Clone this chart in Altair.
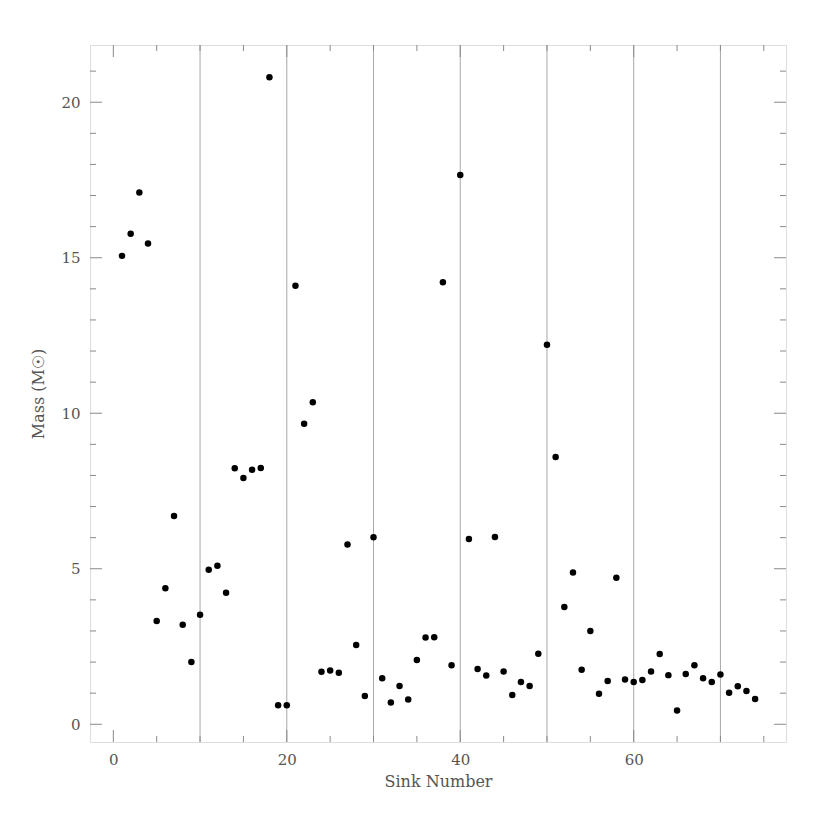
import altair as alt
import pandas as pd

sink = list(range(1, 75))
mass = [15.06, 15.77, 17.10, 15.46, 3.32, 4.37, 6.70, 3.20, 2.00, 3.52,
        4.97, 5.10, 4.23, 8.23, 7.92, 8.18, 8.24, 20.80, 0.61, 0.61,
        14.10, 9.66, 10.35, 1.69, 1.73, 1.66, 5.78, 2.55, 0.91, 6.01,
        1.48, 0.70, 1.23, 0.80, 2.07, 2.79, 2.80, 14.21, 1.90, 17.66,
        5.96, 1.78, 1.57, 6.02, 1.70, 0.94, 1.36, 1.23, 2.27, 12.20,
        8.59, 3.77, 4.88, 1.75, 3.00, 0.98, 1.39, 4.71, 1.44, 1.36,
        1.42, 1.70, 2.26, 1.58, 0.44, 1.62, 1.90, 1.48, 1.36, 1.60,
        1.01, 1.22, 1.07, 0.81]

x_labels = [0, 20, 40, 60]
y_labels = [0, 5, 10, 15, 20]
grid_x = [10, 20, 30, 40, 50, 60, 70]
x_major = [0, 20, 40, 60]
x_minor = [5, 10, 15, 25, 30, 35, 45, 50, 55, 65, 70, 75]
y_major = [0, 5, 10, 15, 20]
y_minor = [1, 2, 3, 4, 6, 7, 8, 9, 11, 12, 13, 14, 16, 17, 18, 19, 21]

W, H = 696, 697
XDOM = [-2.69, 77.56]
YDOM = [-0.57, 21.84]
FONT = "DejaVu Serif"
TXT = "#555555"
FRAME = "#8a8a8a"

xs = alt.Scale(domain=XDOM, nice=False, zero=False)
ys = alt.Scale(domain=YDOM, nice=False, zero=False)

df = pd.DataFrame({"sink": sink, "mass": mass})

points = alt.Chart(df).mark_circle(size=42, color="black", opacity=1).encode(
    x=alt.X("sink:Q", scale=xs,
            axis=alt.Axis(values=x_labels, title="Sink Number", ticks=False, domain=False,
                          grid=False, labelFont=FONT, labelFontSize=15, labelColor=TXT,
                          labelPadding=10, titleFont=FONT, titleFontSize=16,
                          titleFontWeight="normal", titleColor=TXT, titlePadding=6)),
    y=alt.Y("mass:Q", scale=ys,
            axis=alt.Axis(values=y_labels, title="Mass (M☉)", ticks=False, domain=False,
                          grid=False, labelFont=FONT, labelFontSize=15, labelColor=TXT,
                          labelPadding=10, titleFont=FONT, titleFontSize=16,
                          titleFontWeight="normal", titleColor=TXT, titlePadding=14)),
)

grid = alt.Chart(pd.DataFrame({"g": grid_x})).mark_rule(color="#a8a8a8", strokeWidth=1).encode(
    x=alt.X("g:Q", scale=xs)
)


def xticks(vals, length):
    d = pd.DataFrame({"t": vals})
    bottom = alt.Chart(d).mark_rule(color=FRAME, strokeWidth=1).encode(
        x=alt.X("t:Q", scale=xs), y=alt.value(H), y2=alt.value(H - length))
    top = alt.Chart(d).mark_rule(color=FRAME, strokeWidth=1).encode(
        x=alt.X("t:Q", scale=xs), y=alt.value(0), y2=alt.value(length))
    return [bottom, top]


def yticks(vals, length):
    d = pd.DataFrame({"t": vals})
    left = alt.Chart(d).mark_rule(color=FRAME, strokeWidth=1).encode(
        y=alt.Y("t:Q", scale=ys), x=alt.value(0), x2=alt.value(length))
    right = alt.Chart(d).mark_rule(color=FRAME, strokeWidth=1).encode(
        y=alt.Y("t:Q", scale=ys), x=alt.value(W), x2=alt.value(W - length))
    return [left, right]


layers = [grid] + xticks(x_major, 12) + xticks(x_minor, 6) + yticks(y_major, 12) + yticks(y_minor, 6) + [points]

chart = alt.layer(*layers).properties(
    width=W, height=H,
    autosize=alt.AutoSizeParams(type="none"),
    padding={"left": 82, "top": 37, "right": 30, "bottom": 80},
).configure_view(stroke=FRAME, strokeWidth=1.5).configure(background="white")

chart.save("out.html", embed_options={"renderer": "svg", "actions": False})
